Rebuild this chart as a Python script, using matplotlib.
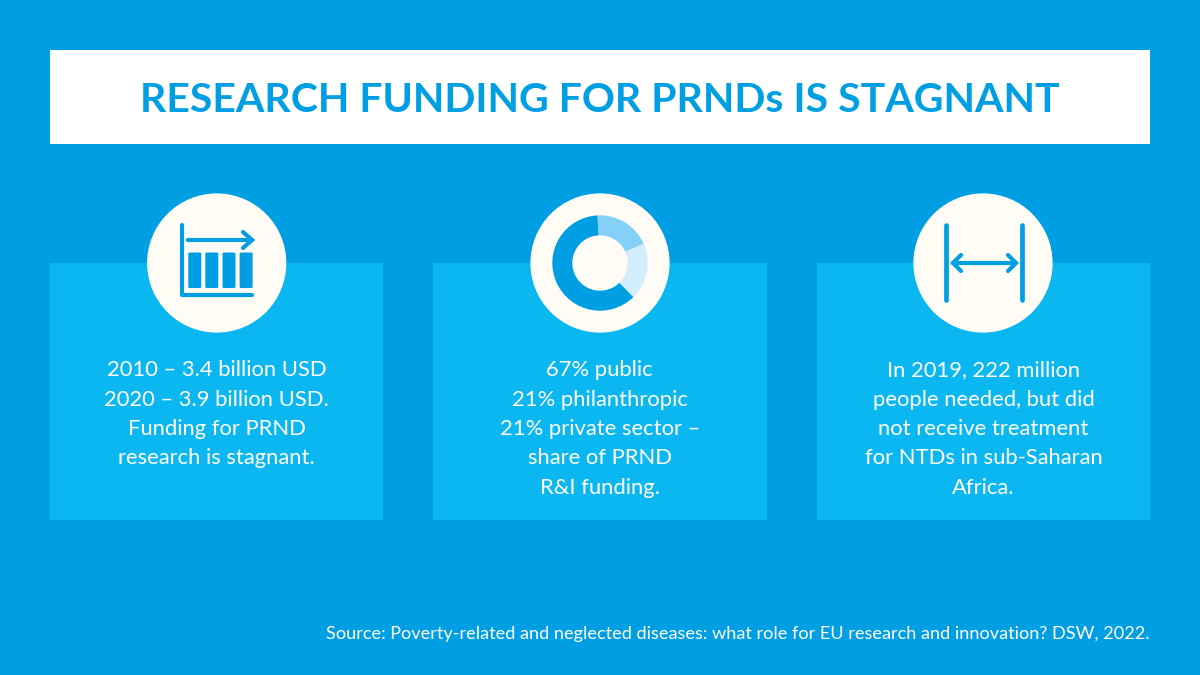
import matplotlib
matplotlib.use("Agg")
import matplotlib.pyplot as plt
from matplotlib.patches import Rectangle, Circle, FancyBboxPatch

plt.rcParams['font.family'] = ['Lato', 'DejaVu Sans']

BG = '#009FE3'
PANEL = '#0BB7F1'
CREAM = '#FFFCF6'

title = 'RESEARCH FUNDING FOR PRNDs IS STAGNANT'
source = 'Source: Poverty-related and neglected diseases: what role for EU research and innovation? DSW, 2022.'
panel_text = [
    '2010 – 3.4 billion USD\n2020 – 3.9 billion USD.\nFunding for PRND\nresearch is stagnant.',
    '67% public\n21% philanthropic\n21% private sector –\nshare of PRND\nR&I funding.',
    'In 2019, 222 million\npeople needed, but did\nnot receive treatment\nfor NTDs in sub-Saharan\nAfrica.',
]
panel_left = [50, 433.3, 817]
circle_x = [216.7, 600, 983]
bar_left = [188.3, 205.3, 222.5, 239.6]

donut_labels = ['philanthropic', 'private sector', 'public']
donut_values = [21, 21, 67]
donut_colors = ['#85D0F6', '#D2EDFC', BG]

fig = plt.figure(figsize=(12, 6.75), dpi=100, facecolor=BG)
ax = fig.add_axes([0, 0, 1, 1])
ax.set_xlim(0, 1200)
ax.set_ylim(675, 0)
ax.axis('off')

# title band
ax.add_patch(Rectangle((50, 50), 1100, 94, color='white', lw=0))
ax.text(600, 100.5, title, color=BG, fontsize=29.55, fontweight='bold', ha='center', va='center')

# panels and circles
for left, cx, txt in zip(panel_left, circle_x, panel_text):
    ax.add_patch(Rectangle((left, 263), 333.3, 257, color=PANEL, lw=0))
    ax.add_patch(Circle((cx, 263), 69.6, color=CREAM, lw=0))
    for i, line in enumerate(txt.split('\n')):
        ax.text(left + 166.5, 370.5 + i * 29.3, line, color='white', fontsize=15.8, ha='center', va='center')

# bar chart icon
ax.plot([181.7, 181.7, 252], [225, 295, 295], color=BG, lw=3, solid_capstyle='round', solid_joinstyle='round')
ax.plot([188, 252], [240, 240], color=BG, lw=3, solid_capstyle='round')
ax.plot([243, 252, 243], [232, 240, 248], color=BG, lw=3, solid_capstyle='round', solid_joinstyle='miter')
for x in bar_left:
    ax.add_patch(FancyBboxPatch((x, 252.5), 13, 35.5, boxstyle='round,pad=0,rounding_size=1.2', color=BG, lw=0))

# donut
r_out = 47.7
dax = fig.add_axes([(600 - r_out) / 1200, 1 - (263 + r_out) / 675, 2 * r_out / 1200, 2 * r_out / 675])
dax.pie(donut_values, colors=donut_colors, startangle=93, counterclock=False, radius=1,
        wedgeprops={'width': 0.42, 'linewidth': 0})
dax.set_xlim(-1, 1)
dax.set_ylim(-1, 1)

# width arrow icon
ax.plot([945.7, 945.7], [225, 300], color=BG, lw=3.4, solid_capstyle='round')
ax.plot([1022, 1022], [225, 300], color=BG, lw=3.4, solid_capstyle='round')
ax.plot([953, 1016], [263, 263], color=BG, lw=3, solid_capstyle='round')
ax.plot([961, 953, 961], [255, 263, 271], color=BG, lw=3, solid_capstyle='round', solid_joinstyle='miter')
ax.plot([1008, 1016, 1008], [255, 263, 271], color=BG, lw=3, solid_capstyle='round', solid_joinstyle='miter')

ax.text(1150, 634, source, color='white', fontsize=13.05, ha='right', va='center')

fig.savefig('out.png', dpi=100, facecolor=BG)
